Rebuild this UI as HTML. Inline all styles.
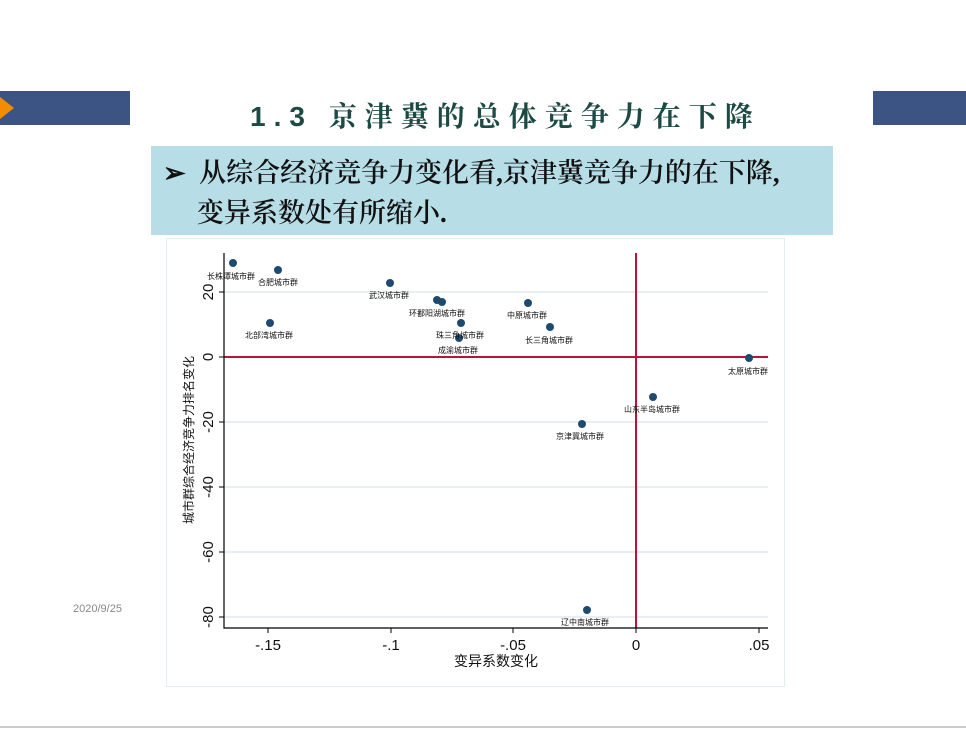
<!DOCTYPE html>
<html><head><meta charset="utf-8"><style>
body{margin:0;width:966px;height:729px;background:#fff;position:relative;overflow:hidden;font-family:"Liberation Sans","Noto Sans CJK SC",sans-serif}
.a{position:absolute}
</style></head><body>
<div class="a" style="left:0;top:91px;width:130px;height:34px;background:#3c5483"></div>
<div class="a" style="left:0;top:97px;width:0;height:0;border-top:11px solid transparent;border-bottom:11px solid transparent;border-left:14px solid #f28c00"></div>
<div class="a" style="left:873px;top:91px;width:93px;height:34px;background:#3c5483"></div>
<div class="a" style="left:250px;top:95px;width:510px;font-family:'Liberation Sans','Noto Serif CJK SC',serif;font-weight:bold;font-size:28px;color:#1d4a44;letter-spacing:8px;white-space:nowrap">1.3 京津冀的总体竞争力在下降</div>
<div class="a" style="left:151px;top:146px;width:682px;height:89px;background:#b7dde6"></div>
<div class="a" style="left:163px;top:153px;font-family:'Liberation Serif','Noto Serif CJK SC',serif;font-size:27px;line-height:40px;color:#111;white-space:nowrap;font-weight:600">➢&nbsp; 从综合经济竞争力变化看,京津冀竞争力的在下降,<br><span style="padding-left:34px">变异系数处有所缩小.</span></div>
<div class="a" style="left:166px;top:238px;width:619px;height:449px;border:1px solid #e4eef0;box-sizing:border-box"></div>
<div class="a" style="left:73px;top:603px;font-size:11px;color:#888">2020/9/25</div>
<div class="a" style="left:0;top:726px;width:966px;height:2px;background:#ccc"></div>
<svg class="a" style="left:0;top:0" width="966" height="729" font-family="Liberation Sans, Noto Sans CJK SC, sans-serif">
<g stroke="#e8eef2" stroke-width="2">
<line x1="224" y1="292" x2="768" y2="292"/><line x1="224" y1="422" x2="768" y2="422"/><line x1="224" y1="487" x2="768" y2="487"/><line x1="224" y1="552" x2="768" y2="552"/><line x1="224" y1="617" x2="768" y2="617"/>
</g>
<line x1="224" y1="357" x2="768" y2="357" stroke="#c0103a" stroke-width="2"/>
<line x1="636" y1="253" x2="636" y2="628" stroke="#c0103a" stroke-width="2"/>
<polyline points="224,253 224,628 768,628" fill="none" stroke="#000" stroke-width="1.2"/>
<g stroke="#000"><line x1="268" y1="628" x2="268" y2="633"/><line x1="391" y1="628" x2="391" y2="633"/><line x1="513" y1="628" x2="513" y2="633"/><line x1="636" y1="628" x2="636" y2="633"/><line x1="759" y1="628" x2="759" y2="633"/>
<line x1="219" y1="292" x2="224" y2="292"/><line x1="219" y1="357" x2="224" y2="357"/><line x1="219" y1="422" x2="224" y2="422"/><line x1="219" y1="487" x2="224" y2="487"/><line x1="219" y1="552" x2="224" y2="552"/><line x1="219" y1="617" x2="224" y2="617"/></g>
<g font-size="15" text-anchor="middle" fill="#111">
<text x="268" y="650">-.15</text><text x="391" y="650">-.1</text><text x="513" y="650">-.05</text><text x="636" y="650">0</text><text x="759" y="650">.05</text>
<text transform="translate(213,292) rotate(-90)">20</text><text transform="translate(213,357) rotate(-90)">0</text><text transform="translate(213,422) rotate(-90)">-20</text><text transform="translate(213,487) rotate(-90)">-40</text><text transform="translate(213,552) rotate(-90)">-60</text><text transform="translate(213,617) rotate(-90)">-80</text>
<text x="496" y="666" font-size="14">变异系数变化</text>
<text transform="translate(193,440) rotate(-90)" font-size="12">城市群综合经济竞争力排名变化</text>
</g>
<g fill="#1f4a70">
<circle cx="233" cy="263" r="4"/><circle cx="278" cy="270" r="4"/><circle cx="390" cy="283" r="4"/><circle cx="437" cy="300" r="4"/><circle cx="442" cy="302" r="4"/><circle cx="270" cy="323" r="4"/><circle cx="461" cy="323" r="4"/><circle cx="459" cy="338" r="4"/><circle cx="528" cy="303" r="4"/><circle cx="550" cy="327" r="4"/><circle cx="749" cy="358" r="4"/><circle cx="653" cy="397" r="4"/><circle cx="582" cy="424" r="4"/><circle cx="587" cy="610" r="4"/>
</g>
<g font-size="8" text-anchor="middle" fill="#111">
<text x="231" y="279">长株潭城市群</text><text x="278" y="285">合肥城市群</text><text x="389" y="298">武汉城市群</text><text x="437" y="316">环鄱阳湖城市群</text><text x="269" y="338">北部湾城市群</text><text x="460" y="338">珠三角城市群</text><text x="458" y="353">成渝城市群</text><text x="527" y="318">中原城市群</text><text x="549" y="343">长三角城市群</text><text x="748" y="374">太原城市群</text><text x="652" y="412">山东半岛城市群</text><text x="580" y="439">京津冀城市群</text><text x="585" y="625">辽中南城市群</text>
</g>
</svg>
</body></html>
